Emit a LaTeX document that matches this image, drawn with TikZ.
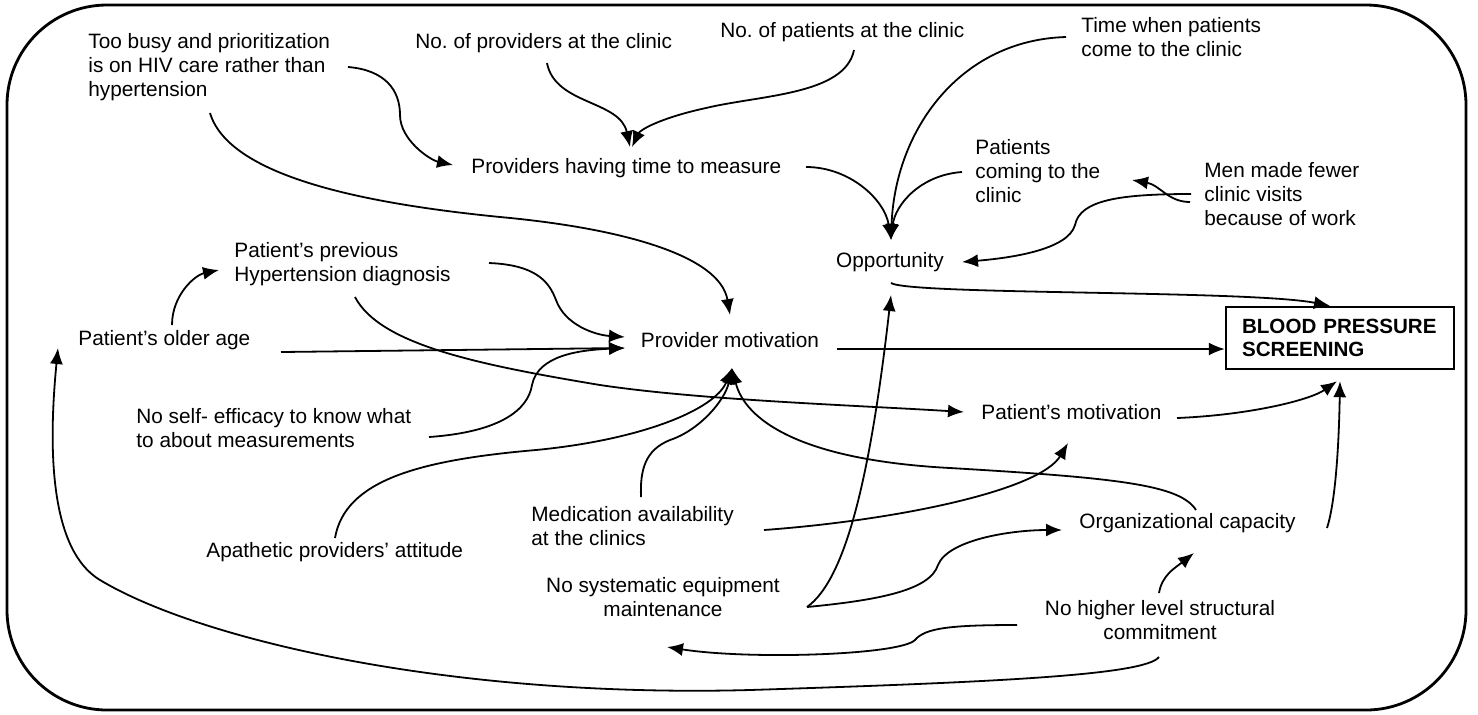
\documentclass[tikz,border=0pt]{standalone}
\usepackage{fontspec}
\setmainfont{Liberation Sans}
\usetikzlibrary{arrows.meta,calc}
\frenchspacing
\begin{document}
\begin{tikzpicture}[x=0.5pt,y=-0.5pt,
  lbl/.style={inner sep=0pt, align=left, font=\fontsize{10.4}{12}\selectfont},
  lblc/.style={inner sep=0pt, align=center, font=\fontsize{10.4}{12}\selectfont},
  arr/.style={draw, line width=0.9pt, -{Latex[length=8pt,width=6.5pt]}},
  frame/.style={draw, line width=1.4pt, rounded corners=50pt},
  box/.style={draw, line width=1.2pt, minimum width=114pt, minimum height=31pt, inner xsep=8pt, text width=98pt, align=left, font=\bfseries\fontsize{10.3}{11.5}\selectfont}]
\useasboundingbox (0,0) rectangle (1478,714);
\draw[frame] (7,5) rectangle (1466,710);

\node[lbl, anchor=west] (busy) at (88,67) {Too busy and prioritization\\is on HIV care rather than\\hypertension};
\node[lbl, anchor=west] (nprov) at (415,43) {No. of providers at the clinic};
\node[lbl, anchor=west] (npat) at (720,32) {No. of patients at the clinic};
\node[lbl, anchor=west] (timep) at (1081,37) {Time when patients\\come to the clinic};
\node[lbl, anchor=west] (ptime) at (471,168) {Providers having time to measure};
\node[lbl, anchor=west] (pcome) at (975,171) {Patients\\coming to the\\clinic};
\node[lbl, anchor=west] (men) at (1204,194) {Men made fewer\\clinic visits\\because of work};
\node[lbl] (opp) at (890,262) {Opportunity};
\node[lbl, anchor=west] (prev) at (234,264) {Patient's previous\\Hypertension diagnosis};
\node[lbl, anchor=west] (older) at (78,340) {Patient's older age};
\node[lbl] (pm) at (730,340) {Provider motivation};
\node[box] (bp) at (1340,338) {BLOOD PRESSURE\\SCREENING};
\node[lbl, anchor=west] (self) at (136,428) {No self- efficacy to know what\\to about measurements};
\node[lbl, anchor=west] (pmot) at (981,412) {Patient's motivation};
\node[lbl, anchor=west] (med) at (531,526) {Medication availability\\at the clinics};
\node[lbl, anchor=west] (apa) at (206,552) {Apathetic providers' attitude};
\node[lbl, anchor=west] (org) at (1079,523) {Organizational capacity};
\node[lblc] (nsys) at (663,597) {No systematic equipment\\maintenance};
\node[lblc] (nhigh) at (1160,620) {No higher level structural\\commitment};

\draw[arr] ($(busy.west)+(260,0)$) .. controls (385,70) and (400,90) .. (400,115) .. controls (400,140) and (430,160) .. ($(ptime.west)+(-18,-3)$);
\draw[arr] ($(busy.west)+(122,46)$) .. controls (230,180) and (380,205) .. (500,217) .. controls (620,228) and (720,255) .. ($(pm.center)+(0,-25)$);
\draw[arr] ($(nprov.west)+(132,20)$) .. controls (555,105) and (620,100) .. ($(ptime.west)+(159,-21)$);
\draw[arr] ($(npat.west)+(134,18)$) .. controls (845,95) and (760,95) .. (706,108) .. controls (660,118) and (640,130) .. ($(ptime.west)+(161,-21)$);
\draw[arr] ($(ptime.west)+(335,-1)$) .. controls (850,167) and (885,200) .. ($(opp.center)+(1,-22)$);
\draw[arr] ($(timep.west)+(-15,0)$) .. controls (960,40) and (895,130) .. ($(opp.center)+(1,-22)$);
\draw[arr] ($(pcome.west)+(-13,1)$) .. controls (920,175) and (895,205) .. ($(opp.center)+(1,-22)$);
\draw[arr] ($(men.west)+(-13,0)$) .. controls (1120,194) and (1080,200) .. (1075,225) .. controls (1068,250) and (1010,258) .. ($(opp.center)+(72,0)$);
\draw[arr] ($(men.west)+(-14,8)$) .. controls (1168,202) and (1160,185) .. ($(pcome.west)+(157,9)$);
\draw[arr] ($(opp.center)+(1,21)$) .. controls (910,295) and (1250,290) .. ($(bp.north)+(-10,0)$);
\draw[arr] ($(pm.center)+(107,9)$) -- ($(bp.west)+(0,11)$);
\draw[arr] ($(older.west)+(203,12)$) -- ($(pm.center)+(-105,8)$);
\draw[arr] ($(prev.west)+(255,-1)$) .. controls (540,265) and (550,285) .. (556,300) .. controls (565,325) and (595,335) .. ($(pm.center)+(-105,-3)$);
\draw[arr] ($(self.west)+(293,9)$) .. controls (500,432) and (528,410) .. (532,385) .. controls (538,355) and (580,350) .. ($(pm.center)+(-105,8)$);
\draw[arr] ($(prev.west)+(121,33)$) .. controls (380,345) and (480,365) .. (600,385) .. controls (700,400) and (850,405) .. ($(pmot.west)+(-17,0)$);
\draw[arr] ($(older.west)+(94,-15)$) .. controls (172,295) and (195,275) .. ($(prev.west)+(-15,6)$);
\draw[arr] ($(apa.west)+(129,-14)$) .. controls (345,480) and (420,460) .. (536,450) .. controls (640,440) and (715,410) .. ($(pm.center)+(2,28)$);
\draw[arr] ($(med.west)+(110,-29)$) .. controls (640,470) and (645,450) .. (670,440) .. controls (700,430) and (725,400) .. ($(pm.center)+(2,28)$);
\draw[arr] ($(org.west)+(117,-13)$) .. controls (1180,485) and (1120,478) .. (950,468) .. controls (800,460) and (745,420) .. ($(pm.center)+(2,28)$);
\draw[arr] ($(med.west)+(233,4)$) .. controls (900,520) and (1040,490) .. ($(pmot.west)+(87,31)$);
\draw[arr] ($(pmot.west)+(196,6)$) .. controls (1250,415) and (1310,400) .. ($(bp.south)+(-3,11)$);
\draw[arr] ($(org.west)+(248,5)$) .. controls (1336,500) and (1339,440) .. ($(bp.south)+(0,11)$);
\draw[arr] ($(nsys.center)+(144,10)$) .. controls (845,580) and (870,480) .. ($(opp.center)+(1,33)$);
\draw[arr] ($(nsys.center)+(144,10)$) .. controls (880,600) and (930,590) .. (938,565) .. controls (948,540) and (1010,530) .. ($(org.west)+(-17,7)$);
\draw[arr] ($(nhigh.center)+(-1,-27)$) .. controls (1162,575) and (1175,568) .. ($(org.west)+(115,30)$);
\draw[arr] ($(nhigh.center)+(-143,5)$) .. controls (950,625) and (925,628) .. (915,640) .. controls (900,655) and (750,660) .. ($(nsys.center)+(4,50)$);
\draw[arr] ($(nhigh.center)+(-1,37)$) .. controls (1145,675) and (1000,682) .. (750,690) .. controls (450,698) and (200,640) .. (100,580) .. controls (50,550) and (48,450) .. ($(older.west)+(-20,8)$);
\end{tikzpicture}
\end{document}
